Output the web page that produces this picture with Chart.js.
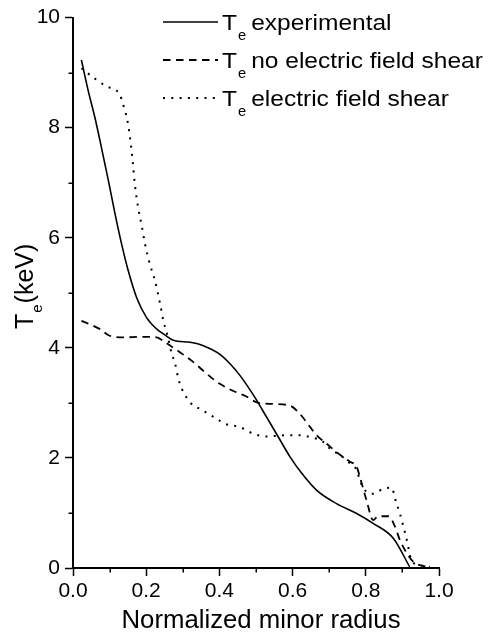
<!DOCTYPE html>
<html>
<head>
<meta charset="utf-8">
<script src="https://cdn.jsdelivr.net/npm/chart.js@4/dist/chart.umd.min.js"></script>
<style>
  html, body { margin: 0; padding: 0; background: #ffffff; }
  canvas { display: block; }
</style>
</head>
<body>
<canvas id="profile" width="488" height="636"></canvas>
<script>
// Electron temperature profiles vs. normalized minor radius
const expRadius = [0.023, 0.042, 0.06, 0.078, 0.097, 0.115, 0.133, 0.151, 0.174, 0.201, 0.229, 0.25, 0.274, 0.32, 0.356, 0.40, 0.429, 0.456, 0.497, 0.529, 0.561, 0.593, 0.625, 0.666, 0.72, 0.775, 0.82, 0.875, 0.92];
const expTe     = [9.23, 8.66, 8.18, 7.63, 7.03, 6.43, 5.88, 5.40, 4.91, 4.55, 4.34, 4.24, 4.14, 4.10, 4.04, 3.89, 3.71, 3.50, 3.10, 2.74, 2.38, 2.02, 1.72, 1.41, 1.17, 0.99, 0.81, 0.54, 0.02];

const noShearRadius = [0.023, 0.074, 0.10, 0.14, 0.183, 0.229, 0.247, 0.292, 0.329, 0.365, 0.40, 0.447, 0.47, 0.502, 0.547, 0.593, 0.62, 0.648, 0.666, 0.698, 0.725, 0.757, 0.775, 0.784, 0.802, 0.82, 0.834, 0.862, 0.88, 0.893, 0.912, 0.93, 0.966];
const noShearTe     = [4.49, 4.34, 4.22, 4.19, 4.20, 4.19, 4.12, 3.92, 3.74, 3.53, 3.35, 3.19, 3.13, 3.01, 2.98, 2.95, 2.80, 2.56, 2.41, 2.23, 2.08, 1.93, 1.84, 1.65, 1.23, 0.87, 0.94, 0.94, 0.75, 0.51, 0.27, 0.11, 0.02];

const shearRadius = [0.023, 0.046, 0.092, 0.115, 0.128, 0.137, 0.148, 0.156, 0.163, 0.169, 0.178, 0.188, 0.197, 0.21, 0.224, 0.238, 0.247, 0.256, 0.270, 0.279, 0.288, 0.297, 0.324, 0.347, 0.393, 0.415, 0.456, 0.493, 0.529, 0.575, 0.62, 0.648, 0.684, 0.702, 0.73, 0.757, 0.775, 0.784, 0.798, 0.82, 0.848, 0.871, 0.88, 0.893, 0.903, 0.912, 0.925, 0.948, 0.975];
const shearTe     = [9.08, 8.96, 8.75, 8.69, 8.60, 8.42, 8.15, 7.81, 7.39, 6.97, 6.55, 6.21, 5.88, 5.52, 5.22, 4.80, 4.49, 4.28, 3.89, 3.71, 3.44, 3.26, 2.98, 2.89, 2.71, 2.62, 2.56, 2.44, 2.39, 2.41, 2.41, 2.38, 2.29, 2.17, 2.05, 1.90, 1.78, 1.59, 1.41, 1.35, 1.44, 1.46, 1.26, 0.99, 0.75, 0.51, 0.14, 0.05, 0.02];

const seriesNames = ['experimental', 'no electric field shear', 'electric field shear'];

const xMajorTicks = [0.0, 0.2, 0.4, 0.6, 0.8, 1.0];
const xMinorTicks = [0.1, 0.3, 0.5, 0.7, 0.9];
const yMajorTicks = [0, 2, 4, 6, 8, 10];
const yMinorTicks = [1, 3, 5, 7, 9];

const xTitle = 'Normalized minor radius';
const yTitleMain = 'T', yTitleSub = 'e', yTitleRest = '(keV)';

const FONT = 'Liberation Sans, Arial, Helvetica, sans-serif';

const toPoints = (xs, ys) => xs.map((v, i) => ({ x: v, y: ys[i] }));

function drawStretched(ctx, text, x, y, sx) {
  ctx.save();
  ctx.translate(x, y);
  ctx.scale(sx, 1);
  ctx.fillText(text, 0, 0);
  ctx.restore();
  return ctx.measureText(text).width * sx;
}

// minor ticks, axis titles and the legend with subscripted labels
const decorations = {
  id: 'decorations',
  afterDraw(chart) {
    const { ctx, scales: { x, y } } = chart;
    const area = chart.chartArea;
    ctx.save();
    ctx.strokeStyle = '#000';
    ctx.lineWidth = 1.5;
    xMinorTicks.forEach(v => {
      const px = Math.round(x.getPixelForValue(v)) + 0.25;
      ctx.beginPath();
      ctx.moveTo(px, area.bottom);
      ctx.lineTo(px, area.bottom + 4.5);
      ctx.stroke();
    });
    yMinorTicks.forEach(v => {
      const py = Math.round(y.getPixelForValue(v)) + 0.25;
      ctx.beginPath();
      ctx.moveTo(area.left, py);
      ctx.lineTo(area.left - 4.5, py);
      ctx.stroke();
    });

    ctx.fillStyle = '#000';
    ctx.textBaseline = 'alphabetic';

    // x-axis title
    ctx.font = `25px ${FONT}`;
    ctx.textAlign = 'center';
    drawStretched(ctx, xTitle, 261, 628, 1.03);
    ctx.textAlign = 'left';

    // y-axis title, rotated
    ctx.save();
    ctx.translate(33, 329);
    ctx.rotate(-Math.PI / 2);
    ctx.font = `25px ${FONT}`;
    let off = ctx.measureText(yTitleMain).width;
    ctx.fillText(yTitleMain, 0, 0);
    ctx.font = `15px ${FONT}`;
    ctx.fillText(yTitleSub, off + 1, 9);
    off += ctx.measureText(yTitleSub).width + 2;
    ctx.font = `25px ${FONT}`;
    ctx.fillText(yTitleRest, off, 0);
    ctx.restore();

    // legend
    const rows = [22, 60, 98];
    chart.data.datasets.forEach((ds, i) => {
      const ly = rows[i];
      ctx.save();
      ctx.strokeStyle = ds.borderColor;
      ctx.lineWidth = ds.borderWidth;
      ctx.setLineDash(ds.borderDash || []);
      ctx.beginPath();
      ctx.moveTo(163, ly);
      ctx.lineTo(218, ly);
      ctx.stroke();
      ctx.restore();

      const base = ly + 8;
      let tx = 222;
      ctx.font = `22.5px ${FONT}`;
      tx += drawStretched(ctx, 'T', tx, base, 1.09);
      ctx.font = `14px ${FONT}`;
      tx += drawStretched(ctx, 'e', tx + 1, base + 10, 1.05) + 6;
      ctx.font = `22.5px ${FONT}`;
      drawStretched(ctx, seriesNames[i], tx, base, 1.09);
    });
    ctx.restore();
  }
};

const lineBase = { borderColor: '#000', pointRadius: 0, fill: false, clip: false, cubicInterpolationMode: 'monotone' };

new Chart(document.getElementById('profile'), {
  type: 'line',
  data: {
    datasets: [
      { ...lineBase, label: 'Te experimental', data: toPoints(expRadius, expTe), borderWidth: 1.6 },
      { ...lineBase, label: 'Te no electric field shear', data: toPoints(noShearRadius, noShearTe), borderWidth: 1.8, borderDash: [7.5, 5.5] },
      { ...lineBase, label: 'Te electric field shear', data: toPoints(shearRadius, shearTe), borderWidth: 2, borderDash: [2, 6.3] }
    ]
  },
  options: {
    responsive: false,
    animation: false,
    devicePixelRatio: 1,
    layout: { padding: { top: 16, right: 49, bottom: 0, left: 0 } },
    plugins: { legend: { display: false }, tooltip: { enabled: false }, title: { display: false } },
    scales: {
      x: {
        type: 'linear',
        position: 'bottom',
        min: 0, max: 1,
        afterBuildTicks: s => { s.ticks = xMajorTicks.map(v => ({ value: v })); },
        afterFit: s => { s.height = 68; },
        grid: { drawOnChartArea: false, drawTicks: true, tickLength: 8, tickWidth: 1.5, tickColor: '#000' },
        border: { display: true, color: '#000', width: 2 },
        ticks: {
          color: '#000', padding: 3, maxRotation: 0, autoSkip: false,
          font: { family: FONT, size: 21 },
          callback: v => Number(v).toFixed(1)
        }
      },
      y: {
        type: 'linear',
        position: 'left',
        min: 0, max: 10,
        afterBuildTicks: s => { s.ticks = yMajorTicks.map(v => ({ value: v })); },
        afterFit: s => { s.width = 73; },
        grid: { drawOnChartArea: false, drawTicks: true, tickLength: 8, tickWidth: 1.5, tickColor: '#000' },
        border: { display: true, color: '#000', width: 2 },
        ticks: {
          color: '#000', padding: 5,
          font: { family: FONT, size: 21 },
          callback: v => String(v)
        }
      }
    }
  },
  plugins: [decorations]
});
</script>
</body>
</html>
